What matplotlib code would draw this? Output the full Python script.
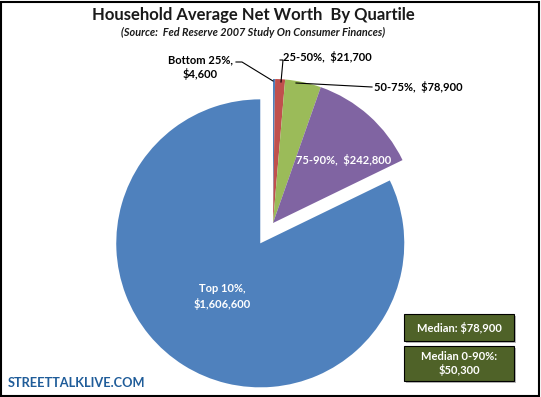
import matplotlib.pyplot as plt
from matplotlib.patches import FancyBboxPatch

plt.rcParams['font.family'] = ['Lato', 'DejaVu Sans']

labels = ['Bottom 25%', '25-50%', '50-75%', '75-90%', 'Top 10%']
values = [4600, 21700, 78900, 242800, 1606600]
colors = ['#4F81BD', '#C0504D', '#9BBB59', '#8064A2', '#4F81BD']
explode = [0, 0, 0, 0, 24]  # offset in pixels (radius is in pixels)

W, H = 541, 397
fig = plt.figure(figsize=(W / 100, H / 100), dpi=100)
ax = fig.add_axes([0, 0, 1, 1])


def Y(y):
    # image row -> data y
    return H - y


wedges, _ = ax.pie(values, colors=colors, startangle=90, counterclock=False,
                   explode=explode, center=(273, Y(223)), radius=144,
                   wedgeprops=dict(linewidth=0), frame=True)
ax.set_xlim(0, W)
ax.set_ylim(0, H)
ax.set_aspect('equal')
ax.axis('off')

fmt = lambda v: '${:,}'.format(v)

# title
ax.text(253, Y(15), 'Household Average Net Worth  By Quartile', ha='center', va='center',
        fontsize=12, fontweight='bold', color='#1a1a1a')
ax.text(253, Y(32), '(Source:  Fed Reserve 2007 Study On Consumer Finances)', ha='center',
        va='center', fontsize=7.8, fontweight='bold', style='italic', color='#1a1a1a')

# labels with leaders
ax.text(200, Y(67), labels[0] + ',\n' + fmt(values[0]), ha='center', va='center',
        fontsize=8, fontweight='bold', linespacing=1.3)
ax.plot([236, 242, 273], [Y(62), Y(62), Y(81)], color='black', lw=0.8)
ax.text(283, Y(57), labels[1] + ',  ' + fmt(values[1]), ha='left', va='center',
        fontsize=8, fontweight='bold')
ax.plot([280, 283, 281], [Y(60), Y(60), Y(82)], color='black', lw=0.8)
ax.text(374, Y(87), labels[2] + ',  ' + fmt(values[2]), ha='left', va='center',
        fontsize=8, fontweight='bold')
ax.plot([296, 372], [Y(83), Y(87)], color='black', lw=0.8)
ax.text(344, Y(160), labels[3] + ',  ' + fmt(values[3]), ha='center', va='center',
        fontsize=8, fontweight='bold', color='white')
ax.text(222, Y(297), labels[4] + ',\n' + fmt(values[4]), ha='center', va='center',
        fontsize=8, fontweight='bold', color='white', linespacing=1.4)

# median boxes
for (x0, y0, x1, y1, txt) in [(404, 314, 514, 341, 'Median: $78,900'),
                              (404, 346, 514, 381, 'Median 0-90%:\n$50,300')]:
    ax.add_patch(FancyBboxPatch((x0 + 2, Y(y1) - 2), x1 - x0, y1 - y0,
                                boxstyle='square,pad=0', fc='#bbbbbb', ec='none'))
    ax.add_patch(FancyBboxPatch((x0, Y(y1)), x1 - x0, y1 - y0,
                                boxstyle='square,pad=0', fc='#4F6228', ec='black', lw=0.8))
    ax.text((x0 + x1) / 2, Y((y0 + y1) / 2), txt, ha='center', va='center',
            fontsize=8, fontweight='bold', color='white', linespacing=1.3)

ax.text(8, Y(383), 'STREETTALKLIVE.COM', ha='left', va='center', fontsize=9.2,
        fontweight='bold', color='#1F5C99')

# outer frame
ax.add_patch(plt.Rectangle((1, 1), W - 3, H - 3, fill=False, ec='black', lw=1.5))

fig.savefig('out.png', dpi=100)
